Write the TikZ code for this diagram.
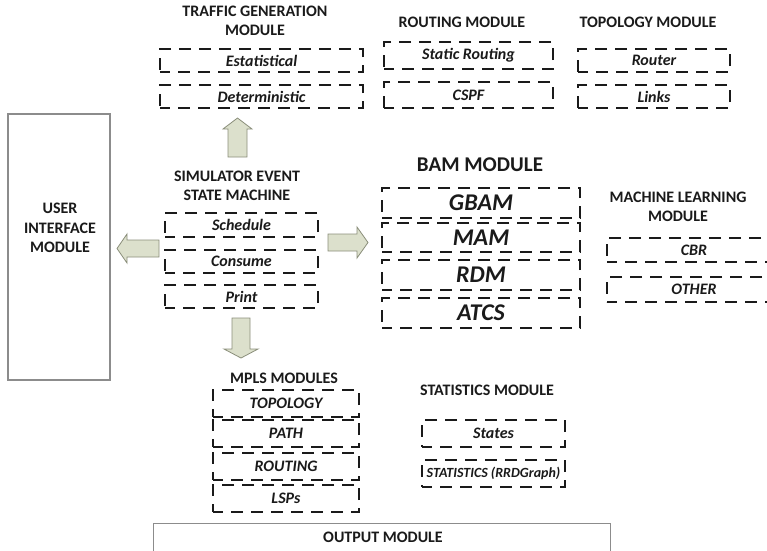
\documentclass[tikz,border=0pt]{standalone}
\usepackage{fontspec}
\setmainfont{Carlito}
\definecolor{arrfill}{HTML}{DCE0CC}
\definecolor{arrline}{HTML}{8A8E7A}
\definecolor{boxline}{HTML}{8C8C8C}
\definecolor{txt}{HTML}{1A1A1A}
\begin{document}
\begin{tikzpicture}[x=1pt,y=-1pt,
  dbox/.style={draw=txt, line width=2pt, dash pattern=on 12pt off 8pt, dash phase=2pt, inner sep=0pt, text=txt,
    font=\bfseries\itshape\fontsize{16}{19}\selectfont},
  bbox/.style={dbox, font=\bfseries\itshape\fontsize{24}{28}\selectfont},
  sbox/.style={draw=boxline, line width=1.1pt},
  head/.style={align=center, text=txt, inner sep=0pt, font=\bfseries\fontsize{16}{18.5}\selectfont},
  barrow/.style={draw=arrline, fill=arrfill, line width=0.8pt, line join=miter}]
\useasboundingbox (0,0) rectangle (767,550);
\clip (0,0) rectangle (767,550);
% Traffic generation
\node[head] (th) at (255,21) {TRAFFIC GENERATION\\MODULE};
\node[dbox, minimum width=203pt, minimum height=23pt] (est) at (261.5,60.5) {Estatistical};
\node[dbox, minimum width=203pt, minimum height=23pt] (det) at (261.5,96.5) {Deterministic};
% Routing
\node[head] (rh) at (462,22) {ROUTING MODULE};
\node[dbox, minimum width=169pt, minimum height=27pt] (stat) at (468.5,55.5) {Static Routing};
\node[dbox, minimum width=169pt, minimum height=26pt] (cspf) at (468.5,95) {CSPF};
% Topology
\node[head] (toph) at (648,22) {TOPOLOGY MODULE};
\node[dbox, minimum width=152pt, minimum height=23pt] (router) at (654,60.5) {Router};
\node[dbox, minimum width=152pt, minimum height=23pt] (links) at (654,96.5) {Links};
% User interface
\node[sbox, minimum width=102pt, minimum height=266pt] (ui) at (59,247) {};
\node[head, font=\bfseries\fontsize{16}{19.5}\selectfont] (uit) at (60,228) {USER\\INTERFACE\\MODULE};
% Simulator
\node[head] (simh) at (237,186) {SIMULATOR EVENT\\STATE MACHINE};
\node[dbox, minimum width=153pt, minimum height=24pt] (sched) at (241.5,225) {Schedule};
\node[dbox, minimum width=153pt, minimum height=23pt] (cons) at (241.5,261.5) {Consume};
\node[dbox, minimum width=153pt, minimum height=23pt] (print) at (241.5,296.5) {Print};
% BAM
\node[head, font=\bfseries\fontsize{21}{24}\selectfont] (bamh) at (480,165) {BAM MODULE};
\node[bbox, minimum width=198pt, minimum height=30pt] (gbam) at (481,203) {GBAM};
\node[bbox, minimum width=198pt, minimum height=29pt] (mam) at (481,237.5) {MAM};
\node[bbox, minimum width=198pt, minimum height=30pt] (rdm) at (481,275) {RDM};
\node[bbox, minimum width=198pt, minimum height=30pt] (atcs) at (481,313) {ATCS};
% Machine learning
\node[head] (mlh) at (678,207) {MACHINE LEARNING\\MODULE};
\node[dbox, minimum width=174pt, minimum height=24pt] (cbr) at (694,250) {CBR};
\node[dbox, minimum width=174pt, minimum height=25pt] (other) at (694,289.5) {OTHER};
% MPLS
\node[head] (mplsh) at (284,378) {MPLS MODULES};
\node[dbox, minimum width=146pt, minimum height=27pt] (topo) at (286,403.5) {TOPOLOGY};
\node[dbox, minimum width=146pt, minimum height=27pt] (path) at (286,433.5) {PATH};
\node[dbox, minimum width=146pt, minimum height=27pt] (rout) at (286,466.5) {ROUTING};
\node[dbox, minimum width=146pt, minimum height=27pt] (lsps) at (286,498.5) {LSPs};
% Statistics
\node[head] (sth) at (487,390) {STATISTICS MODULE};
\node[dbox, minimum width=143pt, minimum height=27pt] (states) at (493.5,433.5) {States};
\node[dbox, minimum width=143pt, minimum height=27pt, font=\bfseries\itshape\fontsize{14}{17}\selectfont] (rrd) at (493.5,473.5) {STATISTICS (RRDGraph)};
% Output
\node[sbox, minimum width=457pt, minimum height=42pt, anchor=north west] (out) at (153,523) {};
\node[head] (outt) at (383,537) {OUTPUT MODULE};
% Block arrows
\draw[barrow] (237.5,118) -- (252,129) -- (247,129) -- (247,157) -- (228,157) -- (228,129) -- (223,129) -- cycle;
\draw[barrow] (117,248.5) -- (127,234) -- (127,240) -- (159,240) -- (159,257) -- (127,257) -- (127,263) -- cycle;
\draw[barrow] (368,242.5) -- (357,227) -- (357,234) -- (328,234) -- (328,251) -- (357,251) -- (357,258) -- cycle;
\draw[barrow] (241,358) -- (258,349) -- (250,349) -- (250,318) -- (232,318) -- (232,349) -- (224,349) -- cycle;
\end{tikzpicture}
\end{document}
